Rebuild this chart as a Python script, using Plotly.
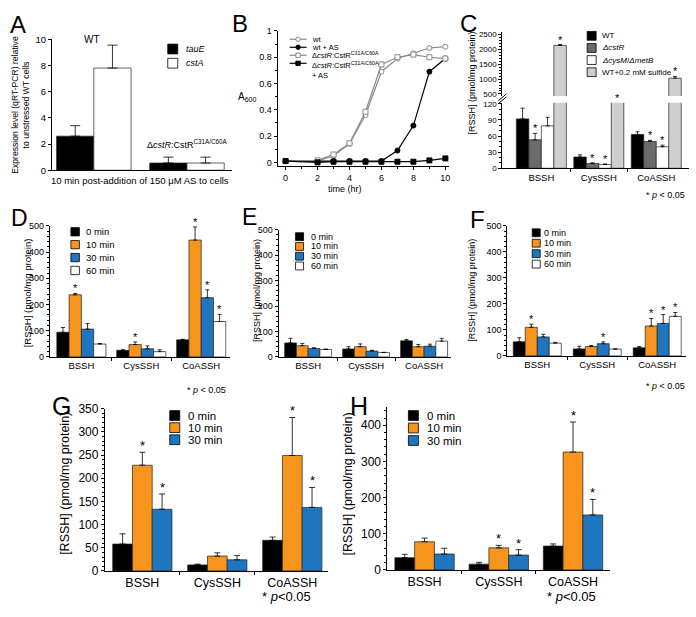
import plotly.graph_objects as go

W, H = 696, 617
FONT = "Liberation Sans, Arial, Helvetica, sans-serif"
ORANGE = "#F7941E"
BLUE = "#1F75BE"

# ------------------------------------------------------------------ data
A_groups = ["WT", "ΔcstR:CstR C31A/C60A"]
A_tauE = [2.6, 0.55]
A_tauE_sd = [0.8, 0.45]
A_cstA = [7.8, 0.55]
A_cstA_sd = [1.75, 0.45]

B_time = [0, 2, 3, 4, 5, 6, 7, 8, 9, 10]
B_wt = [0.01, 0.01, 0.05, 0.14, 0.36, 0.69, 0.79, 0.83, 0.87, 0.88]
B_wt_AS = [0.01, 0.01, 0.01, 0.01, 0.01, 0.01, 0.09, 0.28, 0.69, 0.79]
B_mut = [0.01, 0.015, 0.06, 0.145, 0.385, 0.745, 0.80, 0.82, 0.80, 0.79]
B_mut_AS = [0.01, 0.0, 0.005, 0.005, 0.005, 0.005, 0.005, 0.005, 0.015, 0.03]

RSSH = ["BSSH", "CysSSH", "CoASSH"]

C_names = ["WT", "<i>ΔcstR</i>", "<i>ΔcysM</i>/<i>ΔmetB</i>", "WT+0.2 mM sulfide"]
C_wt = [92, 21, 63]
C_wt_sd = [20, 4, 5]
C_cstR = [53, 9, 50]
C_cstR_sd = [12, 1, 2]
C_cys = [79, 7, 40]
C_cys_sd = [16, 1, 3]
C_sulf = [2130, 300, 1030]
C_sulf_sd = [30, 0, 60]
C_stars = [[], [0, 1, 2], [1, 2], [0, 1, 2]]

TIME4 = ["0 min", "10 min", "30 min", "60 min"]
TIME3 = ["0 min", "10 min", "30 min"]

D_0 = [94, 25, 65];   D_0_sd = [18, 2, 2]
D_10 = [237, 47, 446]; D_10_sd = [5, 10, 50]
D_30 = [106, 31, 226]; D_30_sd = [21, 11, 30]
D_60 = [49, 20, 135];  D_60_sd = [2, 7, 27]
D_stars = [[], [0, 1, 2], [2], [2]]

E_0 = [55, 31, 63];  E_0_sd = [18, 9, 6]
E_10 = [44, 40, 40]; E_10_sd = [9, 11, 9]
E_30 = [33, 23, 42]; E_30_sd = [3, 3, 8]
E_60 = [29, 17, 62]; E_60_sd = [2, 1, 11]
E_stars = [[], [], [], []]

F_0 = [54, 27, 31];    F_0_sd = [16, 10, 5]
F_10 = [110, 36, 115]; F_10_sd = [12, 4, 29]
F_30 = [73, 47, 125];  F_30_sd = [10, 7, 34]
F_60 = [49, 26, 152];  F_60_sd = [3, 1, 15]
F_stars = [[], [0, 2], [1, 2], [2]]

G_0 = [58, 13, 66];    G_0_sd = [22, 1.5, 7]
G_10 = [228, 32, 249]; G_10_sd = [28, 7, 82]
G_30 = [133, 24, 137]; G_30_sd = [33, 9, 43]
G_stars = [[], [0, 2], [0, 2]]

H_0 = [34, 16, 66];    H_0_sd = [9, 5, 6]
H_10 = [78, 61, 326];  H_10_sd = [10, 7, 83]
H_30 = [44, 41, 152];  H_30_sd = [16, 15, 43]
H_stars = [[], [1, 2], [1, 2]]

# ------------------------------------------------------------------ helpers
def fx(p):
    return p / W


def fy(p):
    return 1 - p / H


fig = go.Figure()
annotations = []
shapes = []
layout = dict(
    width=W, height=H, margin=dict(l=0, r=0, t=0, b=0), autosize=False,
    paper_bgcolor="white", plot_bgcolor="rgba(0,0,0,0)",
    font=dict(family=FONT, color="black", size=9), showlegend=False,
)


def axis(dom, rng, **kw):
    d = dict(domain=dom, range=rng, showline=True, linecolor="black", linewidth=1,
             showgrid=False, zeroline=False, ticks="outside", tickcolor="black",
             ticklen=3, tickwidth=1, fixedrange=True)
    d.update(kw)
    return d


def key(letter, n):
    return f"{letter}axis" if n == 1 else f"{letter}axis{n}"


def ref(letter, n):
    return letter if n == 1 else f"{letter}{n}"


def text(x, y, s, size=9, xanchor="center", yanchor="middle", angle=0, **kw):
    annotations.append(dict(xref="paper", yref="paper", x=fx(x), y=fy(y), text=s,
                            showarrow=False, xanchor=xanchor, yanchor=yanchor,
                            textangle=angle, font=dict(size=size, family=FONT, color="black"), **kw))


def bar_axes(n, x0, x1, ytop, ybot, xr, yr, ydtick, yminor, tsize, csize, **ykw):
    layout[key("x", n)] = axis([fx(x0), fx(x1)], xr, anchor=ref("y", n), tickmode="array",
                              tickvals=list(range(len(RSSH))), ticktext=RSSH, ticks="",
                              tickfont=dict(size=csize),
                              minor=dict(tickmode="array", tickvals=[0.5, 1.5], ticks="outside",
                                         ticklen=3, tickcolor="black"))
    yk = axis([fy(ybot), fy(ytop)], yr, anchor=ref("x", n), dtick=ydtick, tick0=0,
              tickfont=dict(size=tsize),
              minor=dict(dtick=yminor, ticks="outside", ticklen=2, tickcolor="black"))
    yk.update(ykw)
    layout[key("y", n)] = yk


def bars(xn, yn, series, gw, stars, star_size, errw=2, star_yref=None):
    k = len(series)
    w = gw / k
    for j, (m, s, col) in enumerate(series):
        off = -gw / 2 + j * w
        fig.add_trace(go.Bar(
            x=list(range(len(m))), y=m, width=w, offset=off,
            marker=dict(color=col, line=dict(color="#222222", width=0.7)),
            error_y=dict(type="data", symmetric=False, array=s, arrayminus=[0] * len(s),
                         color="black", thickness=0.8, width=errw),
            xaxis=ref("x", xn), yaxis=ref("y", yn), hoverinfo="skip"))
        for i in stars[j]:
            top = m[i] + s[i]
            yref = ref("y", yn)
            if star_yref is not None:
                yref, top = star_yref(top)
            annotations.append(dict(xref=ref("x", xn), yref=yref, x=i + off + w / 2, y=top,
                                    text="*", showarrow=False, yanchor="bottom", yshift=-3,
                                    font=dict(size=star_size, family=FONT, color="black")))


def legend_boxes(xs, y0, dy, sq, names, colors, size, tx, italic=False):
    for i, (nm, col) in enumerate(zip(names, colors)):
        yc = y0 + i * dy
        shapes.append(dict(type="rect", xref="paper", yref="paper",
                           x0=fx(xs), x1=fx(xs + sq), y0=fy(yc + sq / 2), y1=fy(yc - sq / 2),
                           fillcolor=col, line=dict(color="black", width=0.8)))
        s = f"<i>{nm}</i>" if italic else nm
        text(tx, yc, s, size=size, xanchor="left")


# ------------------------------------------------------------------ panel A
layout["xaxis"] = axis([fx(52), fx(232)], [-0.45, 1.48], anchor="y", showticklabels=False, ticks="")
layout["yaxis"] = axis([fy(167), fy(33)], [0, 10], anchor="x", dtick=2, tickfont=dict(size=9.5))
bars(1, 1, [(A_tauE, A_tauE_sd, "black"), (A_cstA, A_cstA_sd, "white")], 0.8, [[], []], 10, errw=5)
text(92, 33, "WT", size=10)
text(145, 140, "Δ<i>cstR</i>:CstR<sup>C31A/C60A</sup>", size=9, xanchor="left")
text(140, 178, "10 min post-addition of 150 μM AS to cells", size=9.5)
text(21, 100, "Expression level (qRT-PCR) relative<br>to unstressed WT cells", size=8.6, angle=-90)
legend_boxes(168, 43, 14.5, 10, ["tauE", "cstA"], ["black", "white"], 9, 184, italic=True)
text(18, 18, "A", size=24)

# ------------------------------------------------------------------ panel B
layout["xaxis2"] = axis([fx(278), fx(450)], [-0.5, 10.25], anchor="y2", dtick=2, tick0=0,
                        tickfont=dict(size=9),
                        minor=dict(dtick=1, ticks="outside", ticklen=2, tickcolor="black"))
layout["yaxis2"] = axis([fy(163), fy(24.5)], [-0.03, 1.0], anchor="x2", dtick=0.2, tick0=0,
                        tickfont=dict(size=9),
                        minor=dict(dtick=0.1, ticks="outside", ticklen=2, tickcolor="black"))
GRAY = "#8a8a8a"
b_series = [
    (B_wt, GRAY, "circle", "white", GRAY),
    (B_wt_AS, "black", "circle", "black", "black"),
    (B_mut, GRAY, "square", "white", GRAY),
    (B_mut_AS, "black", "square", "black", "black"),
]
for yv, lc, sym, fc, mlc in b_series:
    fig.add_trace(go.Scatter(x=B_time, y=yv, mode="lines+markers", xaxis="x2", yaxis="y2",
                             line=dict(color=lc, width=1.2),
                             marker=dict(symbol=sym, size=5, color=fc, line=dict(color=mlc, width=1)),
                             hoverinfo="skip"))
b_names = ["wt", "wt + AS", "Δ<i>cstR</i>:CstR<sup>C31A/C60A</sup>",
           "Δ<i>cstR</i>:CstR<sup>C31A/C60A</sup><br>+ AS"]
for i, (nm, (yv, lc, sym, fc, mlc)) in enumerate(zip(b_names, b_series)):
    yc = 33 + i * 8.2
    shapes.append(dict(type="line", xref="paper", yref="paper", x0=fx(290), x1=fx(307),
                       y0=fy(yc), y1=fy(yc), line=dict(color=lc, width=1.2)))
    shapes.append(dict(type="circle" if sym == "circle" else "rect", xref="paper", yref="paper",
                       x0=fx(296.3), x1=fx(300.7), y0=fy(yc + 2.2), y1=fy(yc - 2.2),
                       fillcolor=fc, line=dict(color=mlc, width=1)))
    if "<br>" in nm:
        text(310, yc - 5.5, nm, size=7.5, xanchor="left", yanchor="top", align="left")
    else:
        text(310, yc, nm, size=7.5, xanchor="left")
text(247, 92, "A<sub>600</sub>", size=10)
text(345, 186, "time (hr)", size=9)
text(240, 17, "B", size=24)

# ------------------------------------------------------------------ panel C (broken axis)
C_LOW_MAX = 122
C_UP = [434, 2566]
layout["xaxis3"] = axis([fx(503), fx(690)], [-0.68, 2.57], anchor="y3", tickmode="array",
                        tickvals=[0, 1, 2], ticktext=RSSH, ticks="", tickfont=dict(size=9.5),
                        minor=dict(tickmode="array", tickvals=[0.5, 1.5], ticks="outside",
                                   ticklen=3, tickcolor="black"))
layout["yaxis3"] = axis([fy(165), fy(98)], [0, C_LOW_MAX], anchor="x3", dtick=30, tick0=0,
                        tickfont=dict(size=8),
                        minor=dict(dtick=10, ticks="outside", ticklen=2, tickcolor="black"))
layout["yaxis4"] = axis([fy(91), fy(26)], C_UP, anchor="x3", dtick=500, tick0=0,
                        tickfont=dict(size=8),
                        minor=dict(dtick=100, ticks="outside", ticklen=2, tickcolor="black"))
c_series = [(C_wt, C_wt_sd, "black"), (C_cstR, C_cstR_sd, "#6b6b6b"),
            (C_cys, C_cys_sd, "white"), (C_sulf, C_sulf_sd, "#cfcfcf")]


def c_star_ref(top):
    if top >= C_UP[0]:
        return "y4", top
    return "y3", min(top, C_LOW_MAX)


bars(3, 3, c_series, 0.87, C_stars, 11, star_yref=c_star_ref)
bars(3, 4, c_series, 0.87, [[], [], [], []], 11)
shapes.append(dict(type="line", xref="paper", yref="paper", x0=fx(499), x1=fx(507),
                   y0=fy(99), y1=fy(92), line=dict(color="black", width=1)))
shapes.append(dict(type="line", xref="paper", yref="paper", x0=fx(499), x1=fx(507),
                   y0=fy(96), y1=fy(89), line=dict(color="black", width=1)))
legend_boxes(588, 29.5, 12.4, 9, C_names, [s[2] for s in c_series], 8, 601)
text(473, 78, "[RSSH] (pmol/mg protein)", size=9, angle=-90)
text(666, 192, "* <i>p</i> < 0.05", size=9)
text(469, 17, "C", size=24)

# ------------------------------------------------------------------ panel D
bar_axes(5, 50, 230, 224, 358, [-0.525, 2.475], [0, 500], 100, 20, 9, 9.5)
d_series = [(D_0, D_0_sd, "black"), (D_10, D_10_sd, ORANGE), (D_30, D_30_sd, BLUE), (D_60, D_60_sd, "white")]
bars(5, 5, d_series, 0.82, D_stars, 11)
legend_boxes(71, 230, 13.2, 8.5, TIME4, [s[2] for s in d_series], 9.5, 84)
text(27, 292, "[RSSH] (pmol/mg protein)", size=9.5, angle=-90)
text(207, 392, "* <i>p</i> < 0.05", size=9)
text(20, 216, "D", size=23)

# ------------------------------------------------------------------ panel E
bar_axes(6, 279, 452, 228, 358, [-0.51, 2.47], [0, 500], 100, 20, 9, 9.5)
e_series = [(E_0, E_0_sd, "black"), (E_10, E_10_sd, ORANGE), (E_30, E_30_sd, BLUE), (E_60, E_60_sd, "white")]
bars(6, 6, e_series, 0.81, E_stars, 11)
legend_boxes(296, 235, 10, 8, TIME4, [s[2] for s in e_series], 9, 309)
text(258, 290, "[RSSH] (pmol/mg protein)", size=9, angle=-90)
text(250, 215, "E", size=23)

# ------------------------------------------------------------------ panel F
bar_axes(7, 508, 687, 224, 357, [-0.5, 2.48], [0, 500], 100, 20, 9, 9.5)
f_series = [(F_0, F_0_sd, "black"), (F_10, F_10_sd, ORANGE), (F_30, F_30_sd, BLUE), (F_60, F_60_sd, "white")]
bars(7, 7, f_series, 0.8, F_stars, 11)
legend_boxes(533, 231, 10.7, 8, TIME4, [s[2] for s in f_series], 9, 543)
text(473, 290, "[RSSH] (pmol/mg protein)", size=9, angle=-90)
text(666, 388, "* <i>p</i> < 0.05", size=9)
text(478, 217, "F", size=24)

# ------------------------------------------------------------------ panel G
bar_axes(8, 105, 328, 411, 577, [-0.5, 2.47], [0, 350], 50, 10, 12, 12.5)
g_series = [(G_0, G_0_sd, "black"), (G_10, G_10_sd, ORANGE), (G_30, G_30_sd, BLUE)]
bars(8, 8, g_series, 0.79, G_stars, 13, errw=3)
legend_boxes(170, 418, 12.4, 10, TIME3, [s[2] for s in g_series], 11.5, 186)
text(65, 487, "[RSSH] (pmol/mg protein)", size=12.5, angle=-90)
text(287, 603, "* <i>p</i><0.05", size=13)
text(62, 408, "G", size=25)

# ------------------------------------------------------------------ panel H
bar_axes(9, 388, 611, 409.5, 576, [-0.5, 2.5], [0, 450], 100, 20, 12, 12.5)
h_series = [(H_0, H_0_sd, "black"), (H_10, H_10_sd, ORANGE), (H_30, H_30_sd, BLUE)]
bars(9, 9, h_series, 0.8, H_stars, 13, errw=3)
legend_boxes(409, 418, 12.8, 10, TIME3, [s[2] for s in h_series], 11.5, 426)
text(348, 488, "[RSSH] (pmol/mg protein)", size=12.5, angle=-90)
text(572, 603, "* <i>p</i><0.05", size=13)
text(360, 408, "H", size=25)

layout["annotations"] = annotations
layout["shapes"] = shapes
layout["barmode"] = "overlay"
fig.update_layout(**layout)
fig.write_html("out.html", config={"displayModeBar": False},
               post_script="document.body.style.margin='0px';document.body.style.padding='0px';")
